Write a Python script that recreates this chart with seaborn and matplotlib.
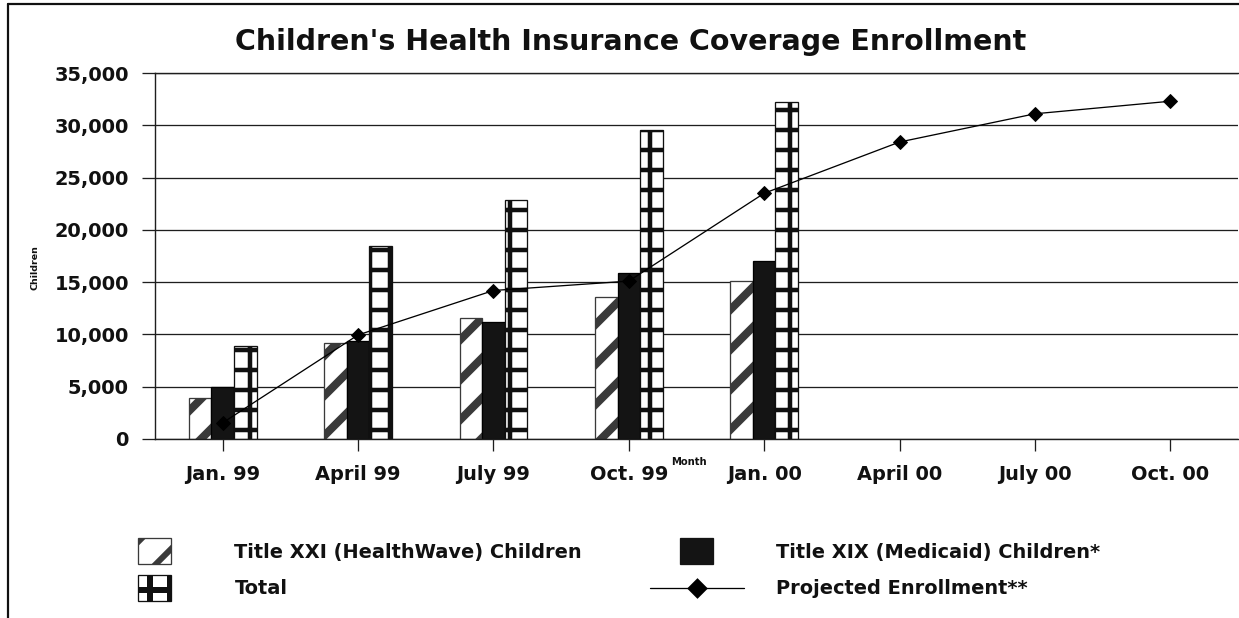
import matplotlib
matplotlib.use("Agg")
import matplotlib.pyplot as plt
import pandas as pd
import seaborn as sns
from matplotlib.patches import Rectangle
from matplotlib.lines import Line2D
from matplotlib.legend_handler import HandlerPatch
from matplotlib.ticker import FuncFormatter

# ---- data ----------------------------------------------------------------
months = ["Jan. 99", "April 99", "July 99", "Oct. 99",
          "Jan. 00", "April 00", "July 00", "Oct. 00"]
series = ["Title XXI (HealthWave) Children",
          "Title XIX (Medicaid) Children*",
          "Total"]
title_xxi = [3950, 9200, 11600, 13600, 15150]
title_xix = [5000, 9400, 11150, 15850, 17000]
total = [8900, 18450, 22850, 29550, 32200]
projected = [1550, 9950, 14200, 15100, 23500, 28400, 31100, 32300]
projected_label = "Projected Enrollment**"
yticks = [0, 5000, 10000, 15000, 20000, 25000, 30000, 35000]

# ---- sizing helpers (work in pixels, convert to points) -------------------
DPI = 240
W, H = 1239, 618


def pt(px):
    return px * 72.0 / DPI


sns.set_style("white")
plt.rcParams["font.family"] = ["DejaVu Sans"]
plt.rcParams["hatch.linewidth"] = pt(6)

fig = plt.figure(figsize=(W / DPI, H / DPI), dpi=DPI)
fig.patch.set_facecolor("white")
ax = fig.add_axes([155 / W, 1 - 439 / H, (1238 - 155) / W, (439 - 73) / H])

# ---- bars ----------------------------------------------------------------
n = len(title_xxi)
bars = pd.DataFrame({
    "Month": months[:n] * 3,
    "Series": [series[0]] * n + [series[1]] * n + [series[2]] * n,
    "Children": title_xxi + title_xix + total,
})
sns.barplot(data=bars, x="Month", y="Children", hue="Series",
            order=months, hue_order=series,
            palette=["white", "#141414", "white"], saturation=1,
            width=0.5, gap=0, edgecolor="black", linewidth=pt(1.3),
            legend=False, ax=ax)

# diagonal stipple bands for Title XXI, ladder grid for the totals
hatch_styles = {0: ("//", "#3a3a3a", 8.0), 2: ("++", "#101010", 4.5)}
for idx, (hatch, color, hlw) in hatch_styles.items():
    for bar in ax.containers[idx]:
        bar.set_hatch(hatch)
        bar.set_edgecolor(color)
        if hasattr(bar, "set_hatch_linewidth"):
            bar.set_hatch_linewidth(pt(hlw))

# ---- projected enrollment line --------------------------------------------
sns.pointplot(x=months, y=projected, order=months, color="black",
              markers="D", linestyles="-", markersize=pt(10.5),
              linewidth=pt(1.3), errorbar=None, ax=ax)

# ---- axes styling ---------------------------------------------------------
ax.set_xlim(-0.5, len(months) - 0.5)
ax.set_ylim(0, 35000)
ax.set_yticks(yticks)
ax.yaxis.set_major_formatter(FuncFormatter(lambda v, _: f"{int(v):,}"))
ax.set_axisbelow(True)
ax.yaxis.grid(True, color="#1e1e1e", linewidth=pt(1.3))
ax.xaxis.grid(False)
for side in ("left", "bottom", "top"):
    ax.spines[side].set_visible(True)
    ax.spines[side].set_color("#1e1e1e")
    ax.spines[side].set_linewidth(pt(1.4))
ax.spines["right"].set_visible(False)

tick_fs = pt(19.4)
ax.tick_params(axis="y", direction="out", length=pt(13), width=pt(1.3),
               pad=pt(13), labelsize=tick_fs, color="#1e1e1e", left=True)
ax.tick_params(axis="x", direction="out", length=pt(12), width=pt(1.3),
               pad=pt(14), labelsize=tick_fs, color="#1e1e1e", bottom=True)
for lab in ax.get_xticklabels() + ax.get_yticklabels():
    lab.set_fontweight("bold")
    lab.set_color("#111111")

ax.set_xlabel("Month", fontsize=pt(10), fontweight="bold", color="#111111")
ax.xaxis.set_label_coords((689 - 155) / (1238 - 155), (439 - 457) / (439 - 73))
ax.set_ylabel("Children", fontsize=pt(9.5), fontweight="bold", color="#111111")
ax.yaxis.set_label_coords((40 - 155) / (1238 - 155), (439 - 268) / (439 - 73))

fig.text(631 / W, 1 - 50 / H, "Children's Health Insurance Coverage Enrollment",
         ha="center", va="baseline", fontsize=pt(28.5), fontweight="bold",
         color="#111111")

# ---- legend ---------------------------------------------------------------
def square_patch(legend, orig_handle, xdescent, ydescent, width, height, fontsize):
    w, h = pt(33), pt(26)
    return Rectangle((-xdescent + (width - w) / 2, -ydescent + (height - h) / 2), w, h)


def make_patch(face, edge, hatch, hlw):
    p = Rectangle((0, 0), 1, 1, facecolor=face, edgecolor=edge, hatch=hatch,
                  linewidth=pt(1.3))
    if hatch and hasattr(p, "set_hatch_linewidth"):
        p.set_hatch_linewidth(pt(hlw))
    return p


h_xxi = make_patch("white", "#3a3a3a", "//", 8.0)
h_xix = make_patch("#141414", "#141414", None, 0)
h_tot = make_patch("white", "#101010", "++", 4.5)
h_proj = Line2D([], [], color="black", marker="D", markersize=pt(12),
                linewidth=pt(1.3))

legend_kw = dict(frameon=False, loc="upper left", borderpad=0, borderaxespad=0,
                 handlelength=94 / 19.4, handleheight=0.7, handletextpad=33 / 19.4,
                 labelspacing=0.9, numpoints=1,
                 prop={"size": tick_fs, "weight": "bold"},
                 handler_map={Rectangle: HandlerPatch(patch_func=square_patch)})

leg1 = fig.legend([h_xxi, h_tot], [series[0], series[2]],
                  bbox_to_anchor=(107.5 / W, 1 - 543 / H), **legend_kw)
leg2 = fig.legend([h_xix, h_proj], [series[1], projected_label],
                  bbox_to_anchor=(649.5 / W, 1 - 543 / H), **legend_kw)
for leg in (leg1, leg2):
    for t in leg.get_texts():
        t.set_color("#111111")

# ---- page frame -----------------------------------------------------------
fig.add_artist(Line2D([8 / W, 8 / W], [0, 1 - 4 / H], transform=fig.transFigure,
                      color="#111111", linewidth=pt(2.2)))
fig.add_artist(Line2D([8 / W, 1], [1 - 4 / H, 1 - 4 / H], transform=fig.transFigure,
                      color="#111111", linewidth=pt(2.2)))

fig.savefig("out.png", dpi=DPI, facecolor="white")
